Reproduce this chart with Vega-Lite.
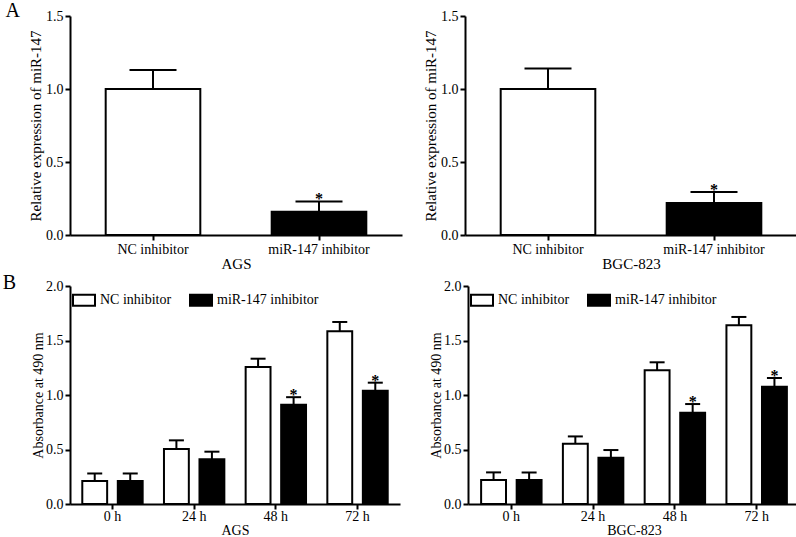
{
  "$schema": "https://vega.github.io/schema/vega-lite/v6.json",
  "padding": {"left": 2, "top": 1, "right": 0, "bottom": 0},
  "background": "white",
  "datasets": {
    "expr": [
      {"cell": "AGS", "group": "NC inhibitor", "value": 1.0, "upper": 1.13, "sig": ""},
      {"cell": "AGS", "group": "miR-147 inhibitor", "value": 0.16, "upper": 0.23, "sig": "*"},
      {"cell": "BGC-823", "group": "NC inhibitor", "value": 1.0, "upper": 1.14, "sig": ""},
      {"cell": "BGC-823", "group": "miR-147 inhibitor", "value": 0.22, "upper": 0.295, "sig": "*"}
    ],
    "absorb": [
      {"cell": "AGS", "time": "0 h", "group": "NC inhibitor", "value": 0.21, "upper": 0.28, "sig": ""},
      {"cell": "AGS", "time": "24 h", "group": "NC inhibitor", "value": 0.505, "upper": 0.584, "sig": ""},
      {"cell": "AGS", "time": "48 h", "group": "NC inhibitor", "value": 1.257, "upper": 1.333, "sig": ""},
      {"cell": "AGS", "time": "72 h", "group": "NC inhibitor", "value": 1.584, "upper": 1.67, "sig": ""},
      {"cell": "AGS", "time": "0 h", "group": "miR-147 inhibitor", "value": 0.21, "upper": 0.28, "sig": ""},
      {"cell": "AGS", "time": "24 h", "group": "miR-147 inhibitor", "value": 0.41, "upper": 0.48, "sig": ""},
      {"cell": "AGS", "time": "48 h", "group": "miR-147 inhibitor", "value": 0.911, "upper": 0.98, "sig": "*"},
      {"cell": "AGS", "time": "72 h", "group": "miR-147 inhibitor", "value": 1.04, "upper": 1.113, "sig": "*"},
      {"cell": "BGC-823", "time": "0 h", "group": "NC inhibitor", "value": 0.22, "upper": 0.29, "sig": ""},
      {"cell": "BGC-823", "time": "24 h", "group": "NC inhibitor", "value": 0.553, "upper": 0.62, "sig": ""},
      {"cell": "BGC-823", "time": "48 h", "group": "NC inhibitor", "value": 1.226, "upper": 1.3, "sig": ""},
      {"cell": "BGC-823", "time": "72 h", "group": "NC inhibitor", "value": 1.64, "upper": 1.716, "sig": ""},
      {"cell": "BGC-823", "time": "0 h", "group": "miR-147 inhibitor", "value": 0.22, "upper": 0.29, "sig": ""},
      {"cell": "BGC-823", "time": "24 h", "group": "miR-147 inhibitor", "value": 0.425, "upper": 0.495, "sig": ""},
      {"cell": "BGC-823", "time": "48 h", "group": "miR-147 inhibitor", "value": 0.838, "upper": 0.917, "sig": "*"},
      {"cell": "BGC-823", "time": "72 h", "group": "miR-147 inhibitor", "value": 1.076, "upper": 1.156, "sig": "*"}
    ]
  },
  "vconcat": [
    {
      "hconcat": [
        {
          "width": 332, "height": 219,
          "title": {"text": "A", "orient": "left", "anchor": "end", "angle": 0, "align": "right", "frame": "group", "fontSize": 20, "font": "Liberation Serif", "fontWeight": "normal", "baseline": "alphabetic", "offset": -6, "dy": 1, "color": "black"},
          "data": {"name": "expr"},
          "transform": [{"filter": "datum.cell === 'AGS'"}],
          "encoding": {
            "x": {"field": "group", "type": "nominal", "sort": ["NC inhibitor", "miR-147 inhibitor"], "scale": {"paddingInner": 0.43, "paddingOuter": 0.215}, "axis": {"title": "AGS", "labelAngle": 0, "labelPadding": 2, "titlePadding": 0, "titleFontSize": 15}}
          },
          "layer": [
            {"mark": {"type": "rule", "stroke": "black", "strokeWidth": 2}, "encoding": {"y": {"field": "value", "type": "quantitative", "title": "Relative expression of miR-147"}, "y2": {"field": "upper"}}},
            {"mark": {"type": "tick", "orient": "horizontal", "size": 47, "thickness": 2, "color": "black", "opacity": 1}, "encoding": {"y": {"field": "upper", "type": "quantitative", "title": "Relative expression of miR-147"}}},
            {"mark": {"type": "bar", "stroke": "black", "strokeWidth": 2}, "encoding": {
              "y": {"field": "value", "type": "quantitative", "title": "Relative expression of miR-147", "scale": {"domain": [0, 1.5], "nice": false}, "axis": {"values": [0, 0.5, 1, 1.5], "format": ".1f", "titleFontSize": 15, "titlePadding": 2}},
              "fill": {"field": "group", "type": "nominal", "scale": {"domain": ["NC inhibitor", "miR-147 inhibitor"], "range": ["white", "black"]}, "legend": null}}},
            {"mark": {"type": "text", "baseline": "alphabetic", "dy": 3, "fontSize": 16, "fontWeight": "bold", "font": "Liberation Serif", "color": "black"}, "encoding": {"y": {"field": "upper", "type": "quantitative", "title": "Relative expression of miR-147"}, "text": {"field": "sig"}}}
          ]
        },
        {
          "width": 332, "height": 219,
          "data": {"name": "expr"},
          "transform": [{"filter": "datum.cell === 'BGC-823'"}],
          "encoding": {
            "x": {"field": "group", "type": "nominal", "sort": ["NC inhibitor", "miR-147 inhibitor"], "scale": {"paddingInner": 0.43, "paddingOuter": 0.215}, "axis": {"title": "BGC-823", "labelAngle": 0, "labelPadding": 2, "titlePadding": 0, "titleFontSize": 15}}
          },
          "layer": [
            {"mark": {"type": "rule", "stroke": "black", "strokeWidth": 2}, "encoding": {"y": {"field": "value", "type": "quantitative", "title": "Relative expression of miR-147"}, "y2": {"field": "upper"}}},
            {"mark": {"type": "tick", "orient": "horizontal", "size": 47, "thickness": 2, "color": "black", "opacity": 1}, "encoding": {"y": {"field": "upper", "type": "quantitative", "title": "Relative expression of miR-147"}}},
            {"mark": {"type": "bar", "stroke": "black", "strokeWidth": 2}, "encoding": {
              "y": {"field": "value", "type": "quantitative", "title": "Relative expression of miR-147", "scale": {"domain": [0, 1.5], "nice": false}, "axis": {"values": [0, 0.5, 1, 1.5], "format": ".1f", "titleFontSize": 15, "titlePadding": 2}},
              "fill": {"field": "group", "type": "nominal", "scale": {"domain": ["NC inhibitor", "miR-147 inhibitor"], "range": ["white", "black"]}, "legend": null}}},
            {"mark": {"type": "text", "baseline": "alphabetic", "dy": 3, "fontSize": 16, "fontWeight": "bold", "font": "Liberation Serif", "color": "black"}, "encoding": {"y": {"field": "upper", "type": "quantitative", "title": "Relative expression of miR-147"}, "text": {"field": "sig"}}}
          ]
        }
      ],
      "spacing": 21,
      "resolve": {"scale": {"x": "independent", "y": "independent", "fill": "independent"}}
    },
    {
      "hconcat": [
        {
          "width": 330, "height": 218,
          "title": {"text": "B", "orient": "left", "anchor": "end", "angle": 0, "align": "right", "frame": "group", "fontSize": 20, "font": "Liberation Serif", "fontWeight": "normal", "baseline": "alphabetic", "offset": 2, "dy": 3, "color": "black"},
          "data": {"name": "absorb"},
          "transform": [{"filter": "datum.cell === 'AGS'"}],
          "encoding": {
            "x": {"field": "time", "type": "nominal", "sort": ["0 h", "24 h", "48 h", "72 h"], "scale": {"paddingInner": 0, "paddingOuter": 0.02}, "axis": {"title": "AGS", "labelAngle": 0, "labelPadding": 0, "titlePadding": 0}},
            "xOffset": {"field": "group", "type": "nominal", "sort": ["NC inhibitor", "miR-147 inhibitor"], "scale": {"paddingInner": 0.3, "paddingOuter": 0.3}}
          },
          "layer": [
            {"mark": {"type": "rule", "stroke": "black", "strokeWidth": 2}, "encoding": {"y": {"field": "value", "type": "quantitative", "title": "Absorbance at 490 nm"}, "y2": {"field": "upper"}}},
            {"mark": {"type": "tick", "orient": "horizontal", "size": 15, "thickness": 2, "color": "black", "opacity": 1}, "encoding": {"y": {"field": "upper", "type": "quantitative", "title": "Absorbance at 490 nm"}}},
            {"mark": {"type": "bar", "stroke": "black", "strokeWidth": 2}, "encoding": {
              "y": {"field": "value", "type": "quantitative", "title": "Absorbance at 490 nm", "scale": {"domain": [0, 2], "nice": false}, "axis": {"values": [0, 0.5, 1, 1.5, 2], "format": ".1f", "titlePadding": 0}},
              "fill": {"field": "group", "type": "nominal", "scale": {"domain": ["NC inhibitor", "miR-147 inhibitor"], "range": ["white", "black"]},
                "legend": {"orient": "top-left", "direction": "horizontal", "title": null, "offset": 2, "padding": 0, "symbolType": "M-1,-0.5H1V0.5H-1Z", "symbolSize": 484, "symbolStrokeColor": "black", "symbolStrokeWidth": 2, "labelFont": "Liberation Serif", "labelFontSize": 14, "labelColor": "black", "labelOffset": 4, "columnPadding": 14}}}},
            {"mark": {"type": "text", "baseline": "alphabetic", "dy": 3, "fontSize": 16, "fontWeight": "bold", "font": "Liberation Serif", "color": "black"}, "encoding": {"y": {"field": "upper", "type": "quantitative", "title": "Absorbance at 490 nm"}, "text": {"field": "sig"}}}
          ]
        },
        {
          "width": 332, "height": 218,
          "data": {"name": "absorb"},
          "transform": [{"filter": "datum.cell === 'BGC-823'"}],
          "encoding": {
            "x": {"field": "time", "type": "nominal", "sort": ["0 h", "24 h", "48 h", "72 h"], "scale": {"paddingInner": 0, "paddingOuter": 0.03}, "axis": {"title": "BGC-823", "labelAngle": 0, "labelPadding": 0, "titlePadding": 0}},
            "xOffset": {"field": "group", "type": "nominal", "sort": ["NC inhibitor", "miR-147 inhibitor"], "scale": {"paddingInner": 0.3, "paddingOuter": 0.3}}
          },
          "layer": [
            {"mark": {"type": "rule", "stroke": "black", "strokeWidth": 2}, "encoding": {"y": {"field": "value", "type": "quantitative", "title": "Absorbance at 490 nm"}, "y2": {"field": "upper"}}},
            {"mark": {"type": "tick", "orient": "horizontal", "size": 15, "thickness": 2, "color": "black", "opacity": 1}, "encoding": {"y": {"field": "upper", "type": "quantitative", "title": "Absorbance at 490 nm"}}},
            {"mark": {"type": "bar", "stroke": "black", "strokeWidth": 2}, "encoding": {
              "y": {"field": "value", "type": "quantitative", "title": "Absorbance at 490 nm", "scale": {"domain": [0, 2], "nice": false}, "axis": {"values": [0, 0.5, 1, 1.5, 2], "format": ".1f", "titlePadding": 0}},
              "fill": {"field": "group", "type": "nominal", "scale": {"domain": ["NC inhibitor", "miR-147 inhibitor"], "range": ["white", "black"]},
                "legend": {"orient": "top-left", "direction": "horizontal", "title": null, "offset": 2, "padding": 0, "symbolType": "M-1,-0.5H1V0.5H-1Z", "symbolSize": 484, "symbolStrokeColor": "black", "symbolStrokeWidth": 2, "labelFont": "Liberation Serif", "labelFontSize": 14, "labelColor": "black", "labelOffset": 4, "columnPadding": 14}}}},
            {"mark": {"type": "text", "baseline": "alphabetic", "dy": 3, "fontSize": 16, "fontWeight": "bold", "font": "Liberation Serif", "color": "black"}, "encoding": {"y": {"field": "upper", "type": "quantitative", "title": "Absorbance at 490 nm"}, "text": {"field": "sig"}}}
          ]
        }
      ],
      "spacing": 29,
      "resolve": {"scale": {"x": "independent", "y": "independent", "fill": "independent", "xOffset": "independent"}, "legend": {"fill": "independent"}}
    }
  ],
  "spacing": 2,
  "resolve": {"scale": {"fill": "independent"}, "legend": {"fill": "independent"}},
  "config": {
    "font": "Liberation Serif",
    "view": {"stroke": null},
    "axis": {
      "grid": false,
      "domainColor": "black", "domainWidth": 2,
      "tickColor": "black", "tickWidth": 2, "tickSize": 5,
      "labelColor": "black", "labelFont": "Liberation Serif", "labelFontSize": 14, "labelPadding": 2,
      "titleColor": "black", "titleFont": "Liberation Serif", "titleFontSize": 14, "titleFontWeight": "normal"
    }
  }
}
